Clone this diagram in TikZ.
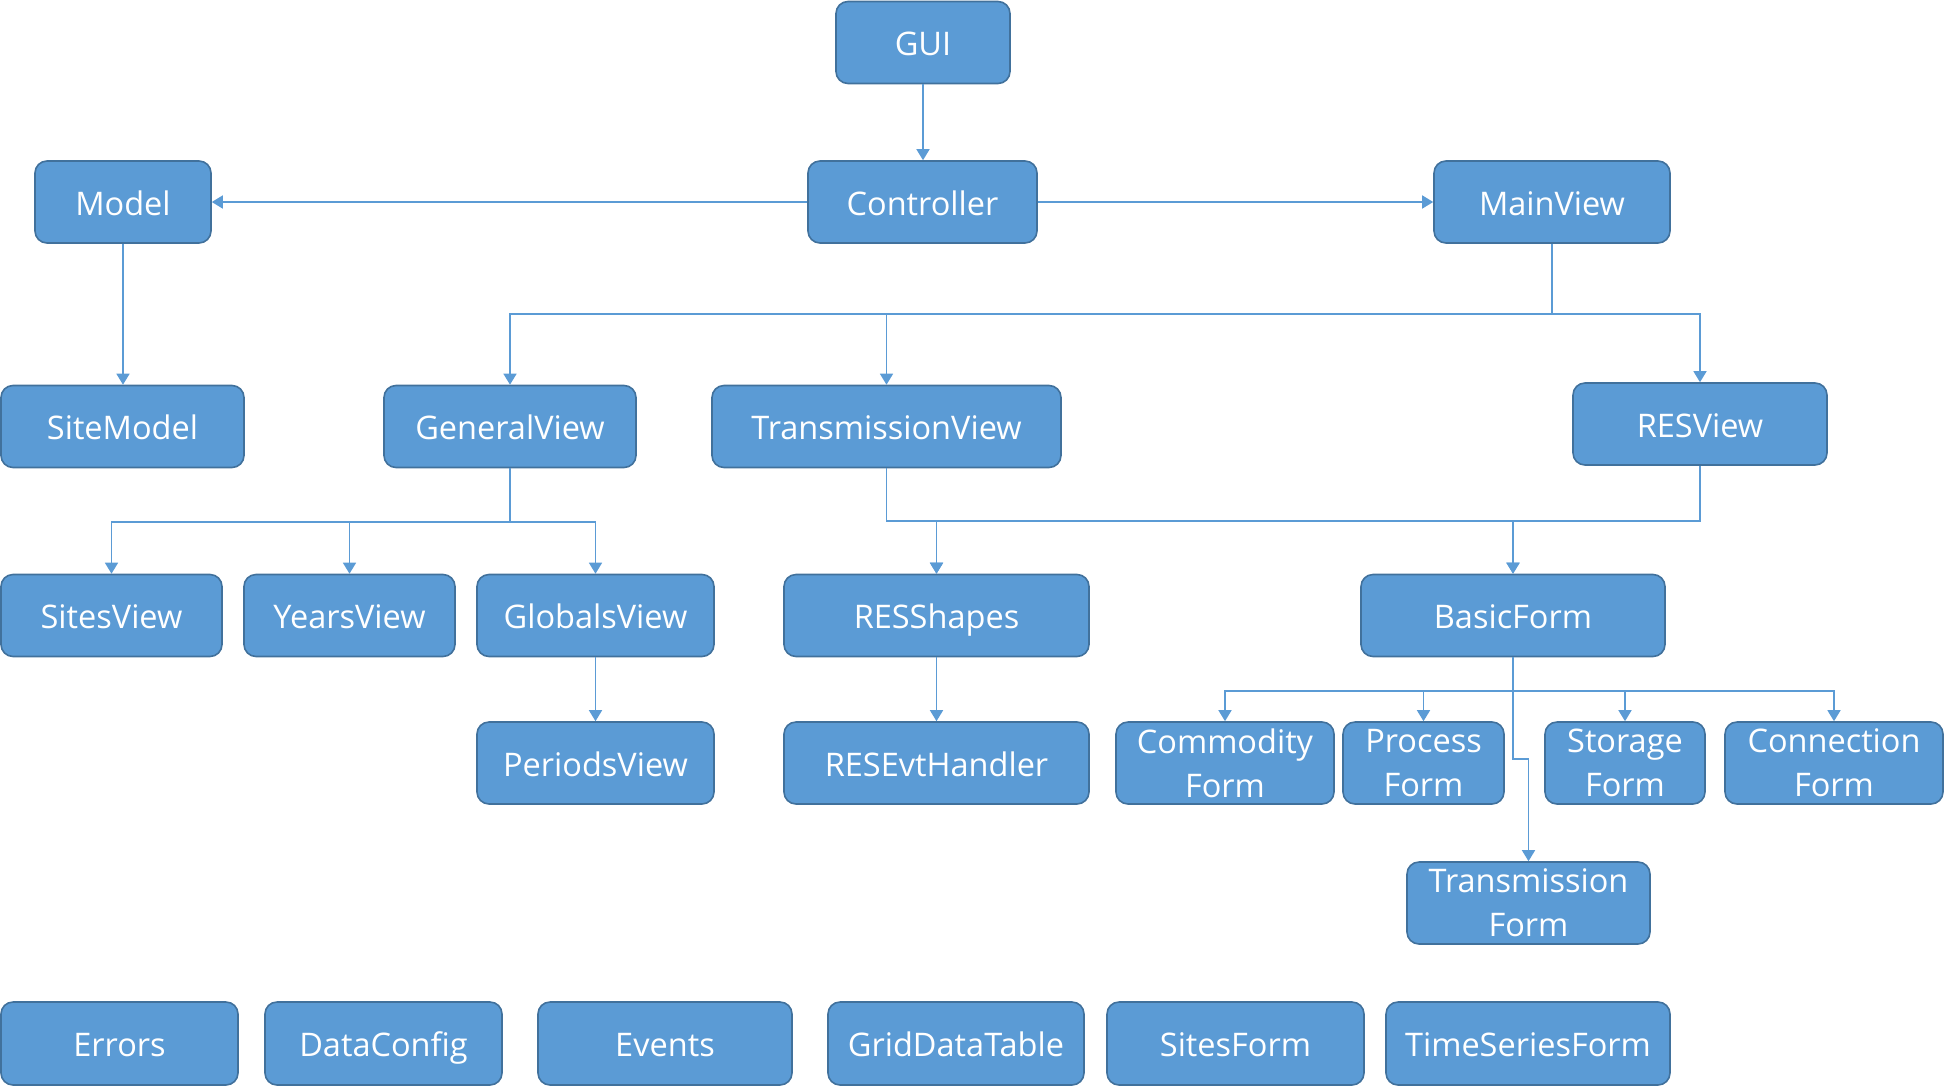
\documentclass[tikz,border=0pt]{standalone}
\usepackage{fontspec}
\setmainfont{Open Sans}
\usetikzlibrary{arrows.meta}
\definecolor{boxfill}{HTML}{5B9BD5}
\definecolor{boxborder}{HTML}{41719C}
\definecolor{linecol}{HTML}{5B9BD5}
\begin{document}
\begin{tikzpicture}[x=1pt,y=-1pt,
  box/.style={draw=boxborder, fill=boxfill, line width=1.6pt, rounded corners=12pt,
    text=white, font=\fontsize{32.5}{44}\selectfont, align=center, inner sep=0pt, minimum height=82pt},
  one/.style={box, text height=26pt, text depth=0pt},
  conn/.style={draw=linecol, line width=1.5pt},
  arr/.style={conn, -{Triangle[width=13pt,length=11pt]}}]
\useasboundingbox (0,0) rectangle (1944,1088);
% row 1-2
\node[one, minimum width=174pt] (GUI) at (923,42.5) {GUI};
\node[one, minimum width=229pt] (Controller) at (922.5,202) {Controller};
\node[one, minimum width=176pt] (Model) at (123,202) {Model};
\node[one, minimum width=236pt] (MainView) at (1552,202) {MainView};
% row 3
\node[one, minimum width=243pt] (SiteModel) at (122.5,426.5) {SiteModel};
\node[one, minimum width=252pt] (GeneralView) at (510,426.5) {GeneralView};
\node[one, minimum width=349pt] (TransmissionView) at (886.5,426.5) {TransmissionView};
\node[one, minimum width=254pt] (RESView) at (1700,424) {RESView};
% row 4
\node[one, minimum width=221pt] (SitesView) at (111.5,615.5) {SitesView};
\node[one, minimum width=211pt] (YearsView) at (349.5,615.5) {YearsView};
\node[one, minimum width=237pt] (GlobalsView) at (595.5,615.5) {GlobalsView};
\node[one, minimum width=305pt] (RESShapes) at (936.5,615.5) {RESShapes};
\node[one, minimum width=304pt] (BasicForm) at (1513,615.5) {BasicForm};
% row 5
\node[one, minimum width=237pt] (PeriodsView) at (595.5,763) {PeriodsView};
\node[one, minimum width=305pt] (RESEvtHandler) at (936.5,763) {RESEvtHandler};
\node[box, minimum width=218pt] (CommodityForm) at (1225,763) {Commodity\\Form};
\node[box, minimum width=161pt] (ProcessForm) at (1423.5,763) {Process\\Form};
\node[box, minimum width=160pt] (StorageForm) at (1625,763) {Storage\\Form};
\node[box, minimum width=218pt] (ConnectionForm) at (1834,763) {Connection\\Form};
% row 6
\node[box, minimum width=243pt] (TransmissionForm) at (1528.5,903) {Transmission\\Form};
% row 7
\node[one, minimum width=237pt, minimum height=83pt] (Errors) at (119.5,1043.5) {Errors};
\node[one, minimum width=237pt, minimum height=83pt] (DataConfig) at (383.5,1043.5) {DataConfig};
\node[one, minimum width=254pt, minimum height=83pt] (Events) at (665,1043.5) {Events};
\node[one, minimum width=256pt, minimum height=83pt] (GridDataTable) at (956,1043.5) {GridDataTable};
\node[one, minimum width=257pt, minimum height=83pt] (SitesForm) at (1235.5,1043.5) {SitesForm};
\node[one, minimum width=284pt, minimum height=83pt] (TimeSeriesForm) at (1528,1043.5) {TimeSeriesForm};
% bus coordinates
\coordinate (b1) at (0,314);
\coordinate (b2) at (0,521);
\coordinate (b3) at (0,522);
\coordinate (b4) at (0,691);
\coordinate (b5) at (0,759);
% connectors
\draw[arr] (GUI.south) -- (GUI.south |- Controller.north);
\draw[arr] (Controller.west) -- (Model.east);
\draw[arr] (Controller.east) -- (MainView.west);
\draw[arr] (Model.south) -- (Model.south |- SiteModel.north);
\draw[arr] (MainView.south) -- (MainView.south |- b1) -| (GeneralView.north);
\draw[arr] (MainView.south) -- (MainView.south |- b1) -| (TransmissionView.north);
\draw[arr] (MainView.south) -- (MainView.south |- b1) -| (RESView.north);
\draw[arr] (GeneralView.south) -- (GeneralView.south |- b3) -| (SitesView.north);
\draw[arr] (GeneralView.south) -- (GeneralView.south |- b3) -| (YearsView.north);
\draw[arr] (GeneralView.south) -- (GeneralView.south |- b3) -| (GlobalsView.north);
\draw[arr] (TransmissionView.south) -- (TransmissionView.south |- b2) -| (RESShapes.north);
\draw[arr] (TransmissionView.south) -- (TransmissionView.south |- b2) -| (BasicForm.north);
\draw[arr] (RESView.south) -- (RESView.south |- b2) -| (RESShapes.north);
\draw[arr] (RESView.south) -- (RESView.south |- b2) -| (BasicForm.north);
\draw[arr] (GlobalsView.south) -- (PeriodsView.north);
\draw[arr] (RESShapes.south) -- (RESEvtHandler.north);
\draw[arr] (BasicForm.south) -- (BasicForm.south |- b4) -| (CommodityForm.north);
\draw[arr] (BasicForm.south) -- (BasicForm.south |- b4) -| (ProcessForm.north);
\draw[arr] (BasicForm.south) -- (BasicForm.south |- b4) -| (StorageForm.north);
\draw[arr] (BasicForm.south) -- (BasicForm.south |- b4) -| (ConnectionForm.north);
\draw[arr] (BasicForm.south) -- (BasicForm.south |- b5) -| (TransmissionForm.north);
\end{tikzpicture}
\end{document}
